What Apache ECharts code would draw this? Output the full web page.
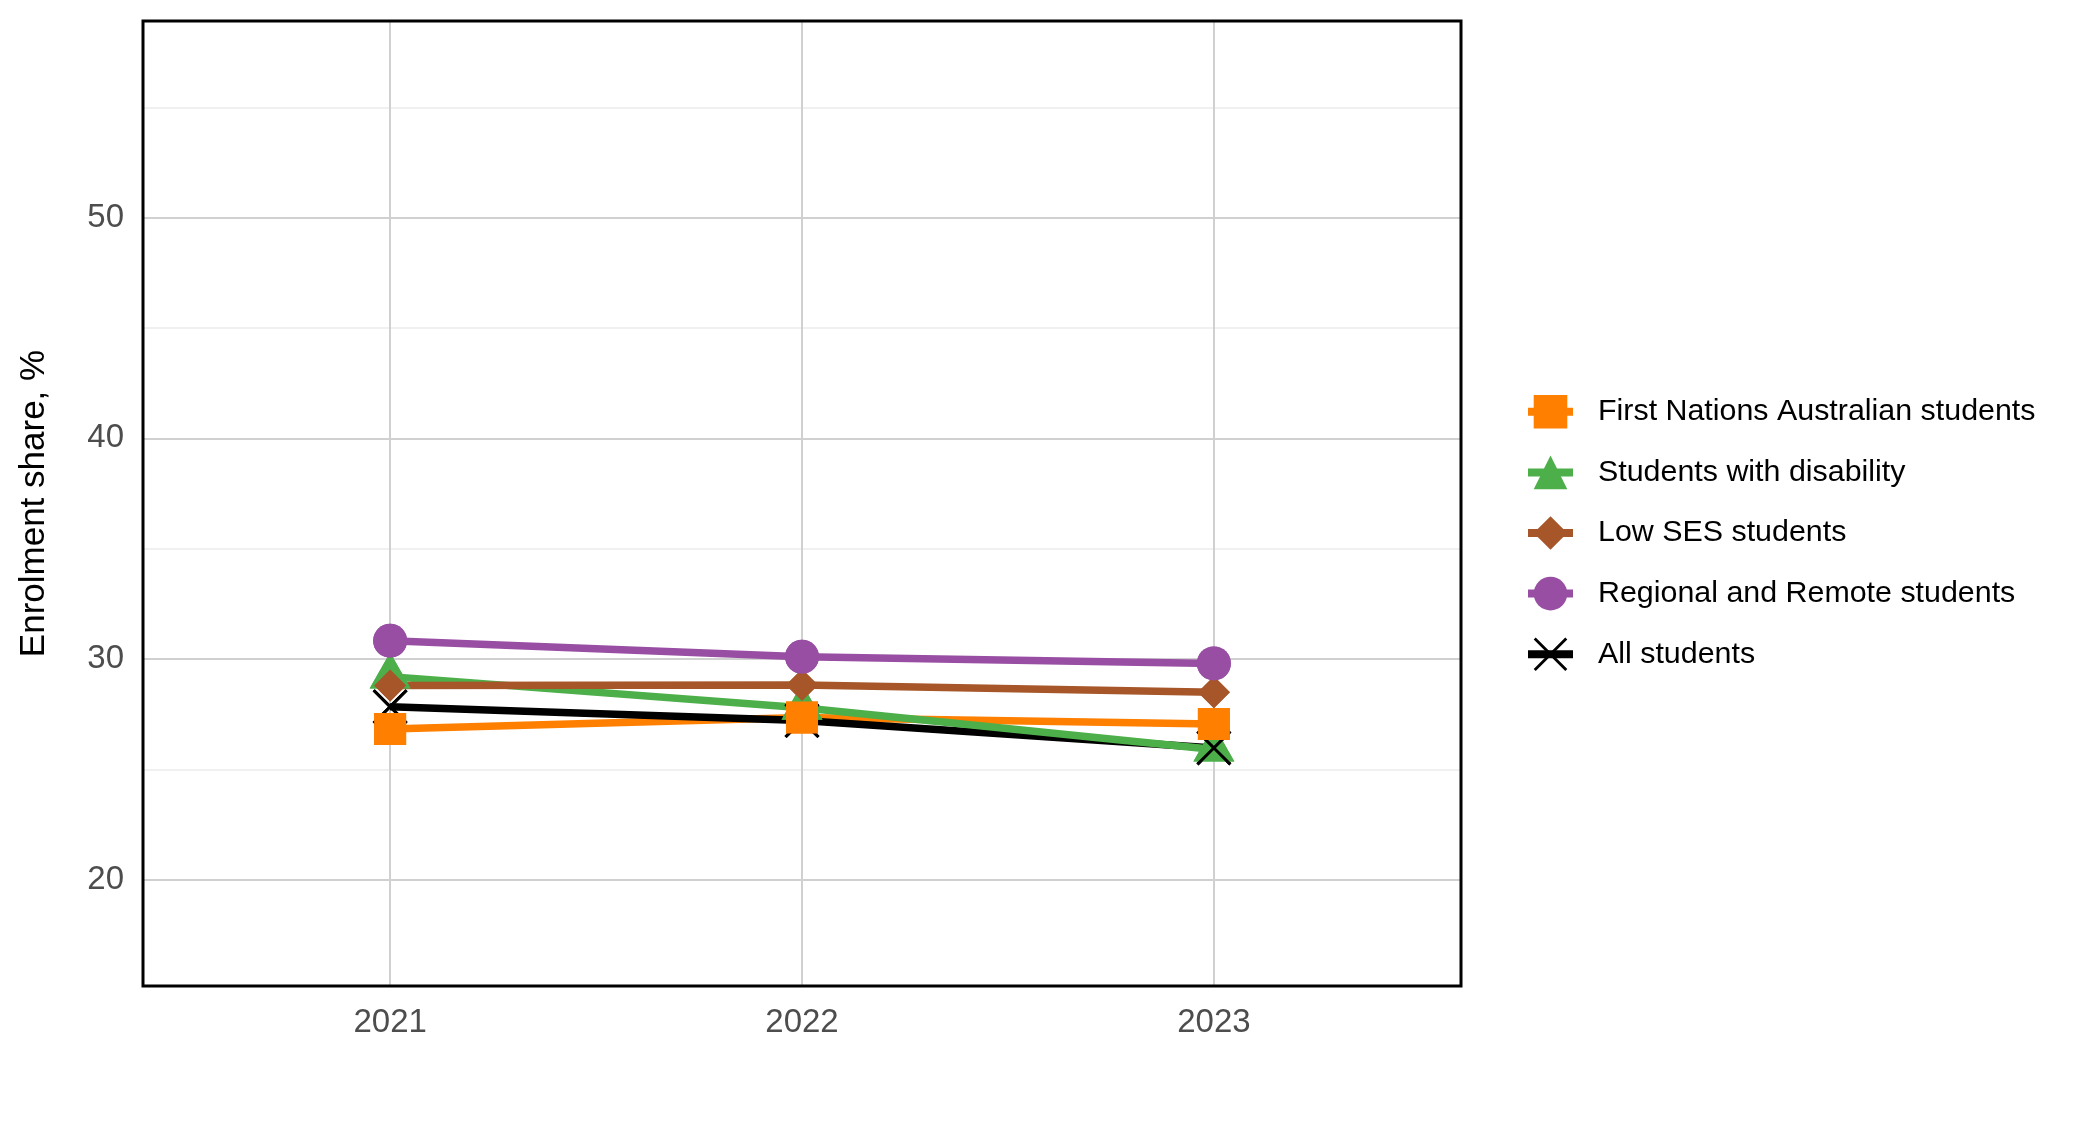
<!DOCTYPE html>
<html>
<head>
<meta charset="utf-8">
<script src="https://cdn.jsdelivr.net/npm/echarts@6/dist/echarts.min.js"></script>
<style>
html,body{margin:0;padding:0;background:#fff;}
#chart{width:2075px;height:1125px;}
</style>
</head>
<body>
<div id="chart"></div>
<script>
// ---- data ----
const years = [2021, 2022, 2023];
const seriesNames = [
  'First Nations Australian students',
  'Students with disability',
  'Low SES students',
  'Regional and Remote students',
  'All students'
];
const firstNations = [26.83, 27.35, 27.05];
const disability   = [29.2, 27.79, 25.9];
const lowSES       = [28.8, 28.82, 28.49];
const regional     = [30.83, 30.1, 29.8];
const allStudents  = [27.84, 27.21, 25.97];
const yTitle = 'Enrolment share, %';

// ---- styling ----
const FONT = '"Liberation Sans", Arial, sans-serif';
const X_PATH = 'path://M0,6L6,0L50,44L94,0L100,6L56,50L100,94L94,100L50,56L6,100L0,94L44,50Z';
const styles = {
  'First Nations Australian students': {color:'#ff7f00', symbol:'rect', size:32, offset:[0,0]},
  'Students with disability': {color:'#4daf4a', symbol:'triangle', size:[41,36], offset:[0,-6]},
  'Low SES students': {color:'#a65628', symbol:'diamond', size:32, offset:[0,0]},
  'Regional and Remote students': {color:'#984ea3', symbol:'circle', size:34, offset:[0,0]},
  'All students': {color:'#000000', symbol:X_PATH, size:35, offset:[0,0]}
};
const values = {
  'First Nations Australian students': firstNations,
  'Students with disability': disability,
  'Low SES students': lowSES,
  'Regional and Remote students': regional,
  'All students': allStudents
};
const pairs = name => years.map((y, i) => [y, values[name][i]]);

// drawing order: lines bottom->top, then points bottom->top
const lineOrder = ['First Nations Australian students','All students','Students with disability','Low SES students','Regional and Remote students'];
const pointOrder = ['Students with disability','Low SES students','Regional and Remote students','All students','First Nations Australian students'];

const series = [];
lineOrder.forEach(name => {
  const s = styles[name];
  series.push({
    type:'line', name:name, data:pairs(name), z:2,
    symbol:s.symbol, symbolSize:s.size, symbolOffset:s.offset, showSymbol:true,
    lineStyle:{color:s.color, width:7.5},
    itemStyle:{color:s.color, borderWidth:0},
    emphasis:{disabled:true}
  });
});
pointOrder.forEach(name => {
  const s = styles[name];
  series.push({
    type:'scatter', name:name, data:pairs(name), z:3,
    symbol:s.symbol, symbolSize:s.size, symbolOffset:s.offset,
    itemStyle:{color:s.color, opacity:1},
    emphasis:{disabled:true}
  });
});

const isMultiple = (v, m) => Math.abs(v - Math.round(v / m) * m) < 1e-6;

const option = {
  animation:false,
  backgroundColor:'#ffffff',
  grid:{left:143, right:614, top:21, bottom:139, show:true, z:1,
        borderColor:'#000', borderWidth:3, backgroundColor:'transparent'},
  legend:{
    data:seriesNames, orient:'vertical', left:1519, top:390,
    itemWidth:45, itemHeight:42, itemGap:27,
    lineStyle:{width:8},
    textStyle:{fontFamily:FONT, fontSize:30.4, color:'#000', padding:[0,0,0,20]},
    selectedMode:false
  },
  xAxis:{
    type:'value', min:2020.4, max:2023.6, splitNumber:3,
    axisLine:{show:false}, axisTick:{show:false},
    axisLabel:{fontFamily:FONT, fontSize:33, color:'#4d4d4d', margin:20,
               formatter:v => isMultiple(v,1) ? String(Math.round(v)) : ''},
    splitLine:{show:true, lineStyle:{color:'#d0d0d0', width:2}}
  },
  yAxis:[{
    type:'value', min:15.18, max:58.91, splitNumber:4,
    name:yTitle, nameLocation:'middle', nameGap:91,
    nameTextStyle:{fontFamily:FONT, fontSize:35, color:'#000'},
    axisLine:{show:false}, axisTick:{show:false},
    axisLabel:{fontFamily:FONT, fontSize:33, color:'#4d4d4d', margin:19,
               formatter:v => isMultiple(v,10) ? String(Math.round(v)) : ''},
    splitLine:{show:true, lineStyle:{color:'#d0d0d0', width:2}},
    z:0.5
  },{
    type:'value', min:15.18, max:58.91, splitNumber:8,
    axisLine:{show:false}, axisTick:{show:false}, axisLabel:{show:false},
    splitLine:{show:true, lineStyle:{color:'#ebebeb', width:1.5}},
    z:0
  }],
  series:series
};

const chart = echarts.init(document.getElementById('chart'), null, {renderer:'canvas'});
chart.setOption(option);
</script>
</body>
</html>
